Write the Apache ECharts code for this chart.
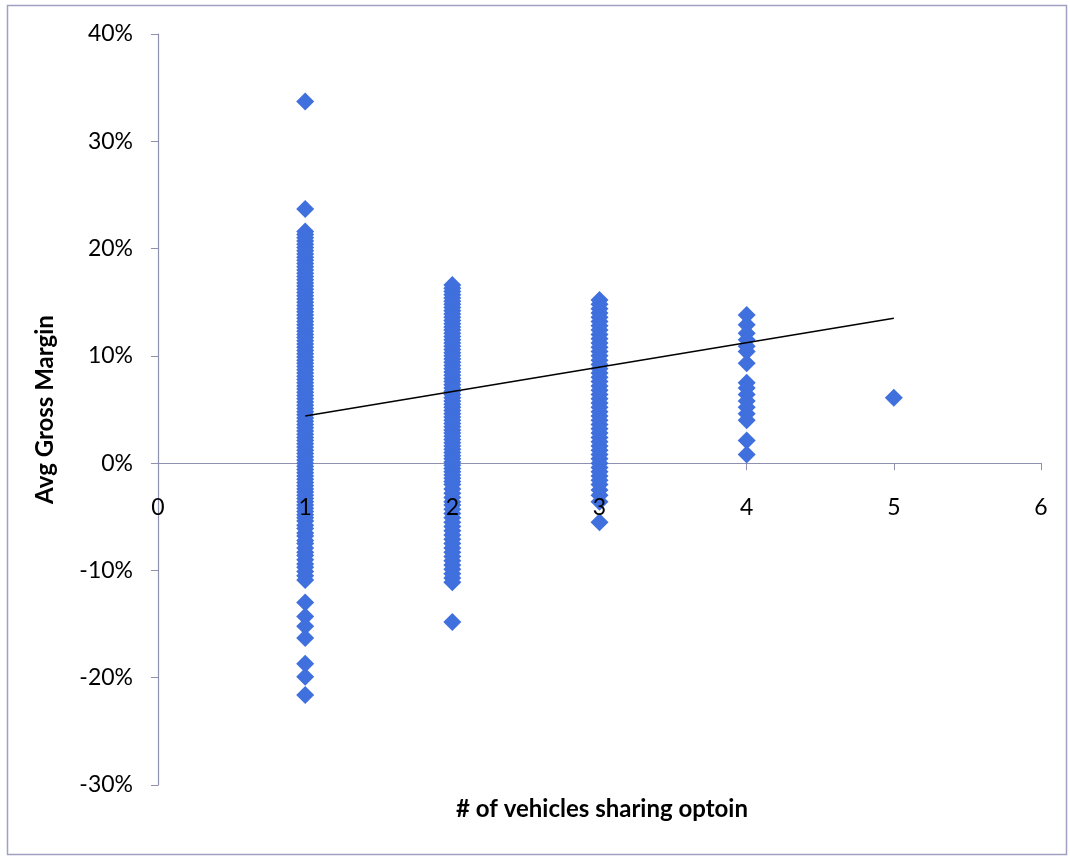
<!DOCTYPE html>
<html>
<head>
<meta charset="utf-8">
<script src="https://cdn.jsdelivr.net/npm/echarts@6/dist/echarts.min.js"></script>
<style>
  html, body { margin: 0; padding: 0; background: #fff; }
  #chart { width: 1070px; height: 857px; }
</style>
</head>
<body>
<div id="chart"></div>
<script>
// Avg gross margin (%) of each option, grouped by how many vehicles share it
const sharedBy1 = [33.7, 23.7, 21.6, 21.3, 21.0, 20.7, 20.4, 20.1, 19.8, 19.5, 19.2, 18.9, 18.6, 18.3, 18.0, 17.7, 17.4, 17.1,
  16.8, 16.5, 16.2, 15.9, 15.6, 15.3, 15.0, 14.7, 14.4, 14.1, 13.8, 13.5, 13.2, 12.9, 12.6, 12.3, 12.0, 11.7, 11.4,
  11.1, 10.8, 10.5, 10.2, 9.9, 9.6, 9.3, 9.0, 8.7, 8.4, 8.1, 7.8, 7.5, 7.2, 6.9, 6.6, 6.3, 6.0, 5.7, 5.4, 5.1,
  4.8, 4.5, 4.2, 3.9, 3.6, 3.3, 3.0, 2.7, 2.4, 2.1, 1.8, 1.5, 1.2, 0.9, 0.6, 0.3, 0.0, -0.3, -0.6, -0.9, -1.2,
  -1.5, -1.8, -2.1, -2.4, -2.7, -3.0, -3.3, -3.6, -3.9, -4.2, -4.5, -4.8, -5.1, -5.4, -5.8, -6.1, -6.5, -6.8,
  -7.2, -7.5, -7.9, -8.3, -8.6, -9.0, -9.4, -9.7, -10.1, -10.5, -10.9,
  -13.0, -14.3, -15.2, -16.3, -18.7, -19.9, -21.6];
const sharedBy2 = [16.6, 16.3, 16.0, 15.7, 15.4, 15.1, 14.8, 14.5, 14.2, 13.9, 13.6, 13.3, 13.0, 12.7, 12.4, 12.1, 11.8,
  11.5, 11.2, 10.9, 10.6, 10.3, 10.0, 9.7, 9.4, 9.1, 8.8, 8.5, 8.2, 7.9, 7.6, 7.3, 7.0, 6.7, 6.4, 6.1, 5.8, 5.5,
  5.2, 4.9, 4.6, 4.3, 4.0, 3.7, 3.4, 3.1, 2.8, 2.5, 2.2, 1.9, 1.6, 1.3, 1.0, 0.7, 0.4, 0.1, -0.2, -0.5, -0.8,
  -1.1, -1.4, -1.7, -2.0, -2.4, -2.8, -3.2, -3.6, -3.9, -4.3, -4.7, -5.1, -5.5, -5.9, -6.3, -6.7, -7.1, -7.5,
  -7.9, -8.3, -8.7, -9.1, -9.5, -9.9, -10.3, -10.7, -11.1, -14.8];
const sharedBy3 = [15.2, 14.8, 14.4, 14.0, 13.6, 13.2, 12.8, 12.4, 12.0, 11.6, 11.2, 10.8, 10.4, 10.0, 9.6, 9.2, 8.8,
  8.4, 8.0, 7.6, 7.2, 6.8, 6.4, 6.0, 5.6, 5.2, 4.8, 4.4, 4.0, 3.6, 3.2, 2.8, 2.4, 2.0, 1.6, 1.2, 0.8, 0.4, 0.0,
  -0.4, -0.8, -1.2, -1.6, -2.0, -2.5, -3.0, -3.6, -5.5];
const sharedBy4 = [13.8, 12.9, 12.1, 11.5, 10.9, 10.4, 9.3, 7.5, 7.0, 6.4, 5.8, 5.2, 4.6, 4.0, 2.1, 0.8];
const sharedBy5 = [6.1];

// Linear trend line end points (x, margin %)
const trendX = [1, 5];
const trendY = [4.4, 13.5];

// Axis settings
const xTicks = { min: 0, max: 6, step: 1 };
const yTicks = { min: -30, max: 40, step: 10 };

const groups = [sharedBy1, sharedBy2, sharedBy3, sharedBy4, sharedBy5];
const points = [];
groups.forEach((vals, i) => vals.forEach(v => points.push([i + 1, v])));
const trend = trendX.map((x, i) => [x, trendY[i]]);

const axisColor = '#8f8fb0';
const font = 'Lato, "Open Sans", sans-serif';
const gridBox = { left: 158, right: 29, top: 34, bottom: 72 };

const chart = echarts.init(document.getElementById('chart'), null, { renderer: 'canvas' });
chart.setOption({
  backgroundColor: '#ffffff',
  animation: false,
  grid: gridBox,
  title: {
    text: '# of vehicles sharing optoin',
    left: 597, top: 792, textAlign: 'center',
    textStyle: { fontFamily: font, fontWeight: 'bold', fontSize: 24, color: '#000' }
  },
  graphic: [{
    type: 'rect',
    shape: { x: 7.5, y: 5.5, width: 1059, height: 849 },
    style: { fill: 'none', stroke: '#a0a0c0', lineWidth: 1.5 },
    silent: true
  }],
  xAxis: [{
    // axis line and ticks, drawn beneath the markers
    type: 'value',
    min: xTicks.min, max: xTicks.max, interval: xTicks.step,
    z: 0,
    axisLine: { show: true, onZero: false, lineStyle: { color: axisColor, width: 1.2 } },
    axisTick: { show: true, inside: false, length: 7, lineStyle: { color: axisColor } },
    axisLabel: { show: false },
    splitLine: { show: false }
  }, {
    // tick labels, drawn over the markers
    type: 'value',
    position: 'bottom',
    min: xTicks.min, max: xTicks.max, interval: xTicks.step,
    z: 10,
    axisLine: { show: false, onZero: false },
    axisTick: { show: false },
    axisLabel: { margin: 33, fontFamily: font, fontSize: 23, color: '#000' },
    splitLine: { show: false }
  }],
  yAxis: {
    type: 'value',
    min: yTicks.min, max: yTicks.max, interval: yTicks.step,
    name: 'Avg Gross Margin',
    nameLocation: 'middle',
    nameGap: 101,
    nameTextStyle: { fontFamily: font, fontWeight: 'bold', fontSize: 24, color: '#000' },
    axisLine: { show: true, onZero: false, lineStyle: { color: axisColor, width: 1.2 } },
    axisTick: { show: true, inside: false, length: 7, lineStyle: { color: axisColor } },
    axisLabel: { margin: 25, fontFamily: font, fontSize: 23, color: '#000', formatter: '{value}%' },
    splitLine: { show: false }
  },
  series: [{
    type: 'scatter',
    xAxisIndex: 0,
    data: points,
    symbol: 'diamond',
    symbolSize: 18,
    itemStyle: { color: '#4070dd', opacity: 1 },
    z: 2
  }, {
    type: 'line',
    xAxisIndex: 0,
    data: trend,
    showSymbol: false,
    symbol: 'none',
    lineStyle: { color: '#000', width: 1.6 },
    z: 3
  }]
});

// Move the x axes (line, ticks and labels) up to the 0% level
const zeroY = chart.convertToPixel({ yAxisIndex: 0 }, 0);
const bottomY = 857 - gridBox.bottom;
const shift = -(bottomY - zeroY);
chart.setOption({ xAxis: [{ offset: shift }, { offset: shift }] });
</script>
</body>
</html>
